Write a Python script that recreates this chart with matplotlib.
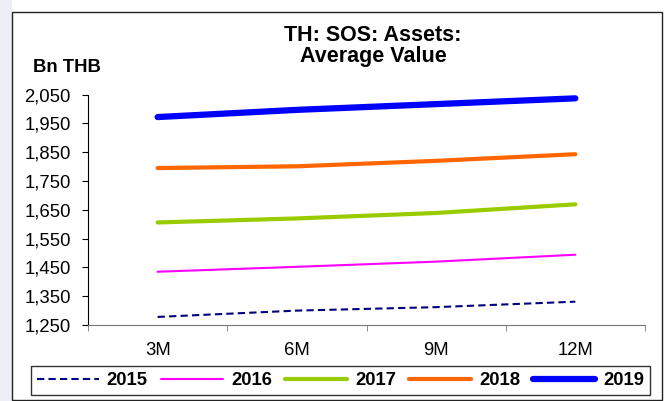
import matplotlib
matplotlib.use("Agg")
import matplotlib.pyplot as plt
from matplotlib.patches import Rectangle
from matplotlib.ticker import FuncFormatter, FixedLocator

plt.rcParams["font.family"] = ["Liberation Sans", "DejaVu Sans"]

periods = ["3M", "6M", "9M", "12M"]
years = ["2015", "2016", "2017", "2018", "2019"]
values_2015 = [1278, 1300, 1312, 1331]
values_2016 = [1435, 1452, 1470, 1494]
values_2017 = [1606, 1620, 1639, 1669]
values_2018 = [1795, 1801, 1820, 1843]
values_2019 = [1972, 1997, 2017, 2037]
y_ticks = [1250, 1350, 1450, 1550, 1650, 1750, 1850, 1950, 2050]

series = [values_2015, values_2016, values_2017, values_2018, values_2019]
styles = [
    dict(color="#000080", lw=1.5, ls=(0, (3.5, 2))),
    dict(color="#ff00ff", lw=1.5, ls="-"),
    dict(color="#99cc00", lw=3.0, ls="-"),
    dict(color="#ff6600", lw=3.0, ls="-"),
    dict(color="#0000ff", lw=4.5, ls="-"),
]

W, H = 669, 401
fs = 13.3
fig = plt.figure(figsize=(W / 100, H / 100), dpi=100)
fig.patch.set_facecolor("white")

# light background strip and chart frame
fig.add_artist(Rectangle((0, 0), 12 / W, 1, transform=fig.transFigure,
                         facecolor="#eeeef7", edgecolor="none", zorder=0))
fig.add_artist(Rectangle((12 / W, 1 / H), 650 / W, 388 / H, transform=fig.transFigure,
                         facecolor="white", edgecolor="#222222", lw=1.0, zorder=0))

ax = fig.add_axes([88 / W, 1 - 325 / H, (645 - 88) / W, (325 - 94.6) / H])
ax.set_facecolor("none")
x = list(range(len(periods)))
lines = []
for year, vals, st in zip(years, series, styles):
    (ln,) = ax.plot(x, vals, color=st["color"], lw=st["lw"], ls=st["ls"],
                    solid_capstyle="round", dash_capstyle="butt", label=year)
    lines.append(ln)

ax.set_xlim(-0.5, len(periods) - 0.5)
ax.set_ylim(1250, 2050)
ax.set_yticks(y_ticks)
ax.yaxis.set_major_formatter(FuncFormatter(lambda v, p: f"{int(v):,}"))
ax.set_xticks(x)
ax.set_xticklabels(periods)
ax.xaxis.set_minor_locator(FixedLocator([i - 0.5 for i in range(len(periods) + 1)]))
ax.tick_params(axis="x", which="major", length=0, pad=12, labelsize=fs)
ax.tick_params(axis="x", which="minor", length=4.5, color="#777777")
ax.tick_params(axis="y", length=4.5, labelsize=fs, pad=8)

for side in ("top", "right"):
    ax.spines[side].set_visible(False)
ax.spines["bottom"].set_color("#777777")
ax.spines["left"].set_color("black")

fig.text(373 / W, 1 - 46 / H, "TH: SOS: Assets:\nAverage Value", ha="center", va="center",
         fontsize=15.5, fontweight="bold", linespacing=1.0)
fig.text(33 / W, 1 - 67 / H, "Bn THB", ha="left", va="center", fontsize=fs, fontweight="bold")

leg = fig.legend(lines, years, loc="center", bbox_to_anchor=(340.5 / W, 1 - 380.5 / H),
                 ncol=5, frameon=True, fancybox=False, edgecolor="black",
                 prop=dict(weight="bold", size=fs), handlelength=3.37,
                 columnspacing=0.7, handletextpad=0.43, borderpad=0.3)
leg.get_frame().set_linewidth(1.0)

fig.savefig("out.png", dpi=100)
